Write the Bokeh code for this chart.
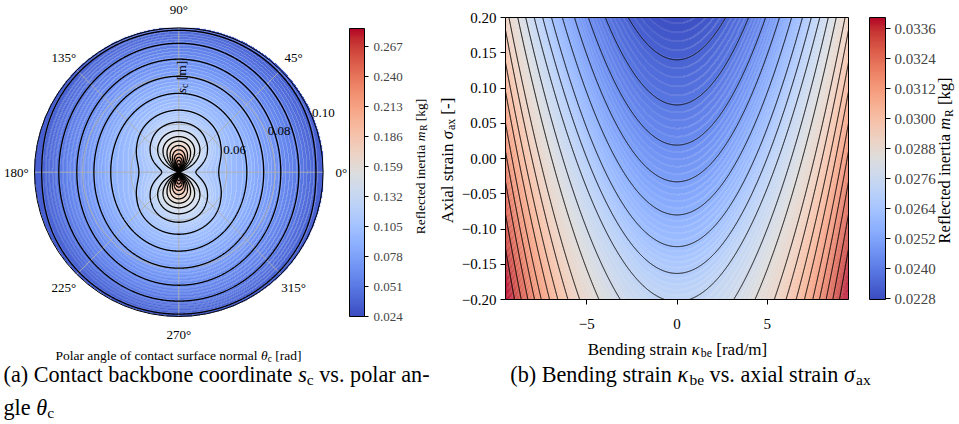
import numpy as np
from bokeh.plotting import figure
from bokeh.models import (ColorBar, LinearColorMapper, FixedTicker, PrintfTickFormatter,
                          Range1d, LinearAxis, CustomJSTickFormatter)
from bokeh.core.properties import value
from bokeh.embed import file_html
from bokeh.resources import INLINE

FONT = "Liberation Serif"

# ---------------- panel (a): m_R over polar angle theta_c and backbone coordinate s_c ----------------
s_centre, s_edge = 0.04, 0.10
theta_tick_deg = [0, 45, 90, 135, 180, 225, 270, 315]
s_tick = [0.06, 0.08, 0.10]
cbar_a_range = [0.024, 0.2835]
cbar_a_ticks = [0.024, 0.051, 0.078, 0.105, 0.132, 0.159, 0.186, 0.213, 0.240, 0.267]
# black contour levels [kg]
levels_a = [0.0375, 0.0510, 0.0645, 0.0780, 0.0915, 0.1050, 0.1185, 0.1320, 0.1455, 0.1590,
            0.1725, 0.1860, 0.1995, 0.2130, 0.2265, 0.2400, 0.2535, 0.2670, 0.2805]
# s_c where each level crosses the 90 deg ray (all levels) and the 0 deg ray (closed levels only)
s_at_90deg = [0.0990, 0.0936, 0.0870, 0.0799, 0.0728, 0.0658, 0.0608, 0.0573, 0.0548, 0.0529,
              0.0511, 0.0493, 0.0476, 0.0462, 0.0449, 0.0435, 0.0421, 0.0412, 0.0406]
s_at_0deg = [0.0970, 0.0899, 0.0824, 0.0753, 0.0683, 0.0566, 0.0471]
# value at the centre (s_c = 0.04) seen along the 0 deg and the 90 deg ray
centre_value_0deg = 0.125
centre_value_90deg = 0.2835

# ---------------- panel (b): m_R over bending strain kappa_be and axial strain sigma_ax ----------------
kappa_lim = [-9.5, 9.5]
sigma_lim = [-0.2, 0.2]
kappa_ticks = [-5, 0, 5]
sigma_ticks = [-0.20, -0.15, -0.10, -0.05, 0.00, 0.05, 0.10, 0.15, 0.20]
cbar_b_range = [0.02276, 0.03404]
cbar_b_ticks = [0.0228, 0.0240, 0.0252, 0.0264, 0.0276, 0.0288, 0.0300, 0.0312, 0.0324, 0.0336]
levels_b = [0.02333, 0.02390, 0.02447, 0.02504, 0.02561, 0.02618, 0.02675, 0.02732, 0.02789, 0.02846,
            0.02903, 0.02960, 0.03017, 0.03074, 0.03131, 0.03188, 0.03245, 0.03302, 0.03359]
# two points read on every black contour (|kappa|, sigma): vertex / bottom edge, and top / side edge
kappa_pt1 = [0.0, 0.0, 0.0, 0.0, 0.0, 0.0, 0.0, 0.68, 3.14, 4.32, 5.39, 6.04, 6.60, 7.06, 7.52, 7.89,
             8.26, 8.63, 9.00]
sigma_pt1 = [0.140, 0.076, 0.019, -0.033, -0.080, -0.125, -0.163, -0.2, -0.2, -0.2, -0.2, -0.2, -0.2,
             -0.2, -0.2, -0.2, -0.2, -0.2, -0.2]
kappa_pt2 = [2.70, 3.97, 4.91, 5.68, 6.35, 6.95, 7.44, 7.91, 8.38, 8.82, 9.31, 9.5, 9.5, 9.5, 9.5, 9.5,
             9.5, 9.5, 9.5]
sigma_pt2 = [0.2, 0.2, 0.2, 0.2, 0.2, 0.2, 0.2, 0.2, 0.2, 0.2, 0.2, 0.182, 0.136, 0.095, 0.050, 0.010,
             -0.033, -0.079, -0.128]

# ---------------- colour map (matplotlib "coolwarm" anchors) ----------------
CW_ANCH = [(59, 76, 192), (68, 90, 204), (77, 104, 215), (87, 117, 225), (98, 130, 234), (108, 142, 241),
           (119, 154, 247), (130, 165, 251), (141, 176, 254), (152, 185, 255), (163, 194, 255), (174, 201, 253),
           (184, 208, 249), (194, 213, 244), (204, 217, 238), (213, 219, 230), (221, 221, 221), (229, 216, 209),
           (236, 211, 197), (241, 204, 185), (245, 196, 173), (247, 187, 160), (247, 177, 148), (247, 166, 135),
           (244, 154, 123), (241, 141, 111), (236, 127, 99), (229, 112, 88), (222, 96, 77), (213, 80, 66),
           (203, 62, 56), (192, 40, 47), (180, 4, 38)]


def make_palette(n=256):
    pal = []
    m = len(CW_ANCH)
    for i in range(n):
        t = i / (n - 1) * (m - 1)
        j = min(int(t), m - 2)
        f = t - j
        c = [round(CW_ANCH[j][k] * (1 - f) + CW_ANCH[j + 1][k] * f) for k in range(3)]
        pal.append("#%02x%02x%02x" % tuple(c))
    return pal


PAL = make_palette()

# ---------------- page geometry (px from top-left) ----------------
W, H = 959, 424
KA = 2405.0                  # polar panel: px per metre of s
CXA, CYA = 178.3, 171.7      # polar centre
RA = s_edge - s_centre
FL, FR, FT, FB = 505, 848, 17, 299   # panel (b) frame


def kap(px):
    return kappa_lim[0] + (px - FL) * (kappa_lim[1] - kappa_lim[0]) / (FR - FL)


def sig(py):
    return sigma_lim[1] - (py - FT) * (sigma_lim[1] - sigma_lim[0]) / (FB - FT)


p = figure(width=W, height=H, x_range=Range1d(0, W), y_range=Range1d(0, H), output_backend="svg",
           toolbar_location=None, min_border=0, x_axis_location=None, y_axis_location=None,
           outline_line_color=None, title=None, background_fill_color="white", border_fill_color="white")
p.xgrid.visible = False
p.ygrid.visible = False
p.extra_x_ranges = {"ax": Range1d(-CXA / KA, (W - CXA) / KA), "kap": Range1d(kap(0), kap(W))}
p.extra_y_ranges = {"ay": Range1d(-(H - CYA) / KA, CYA / KA), "sig": Range1d(sig(H), sig(0))}
A = dict(x_range_name="ax", y_range_name="ay")
B = dict(x_range_name="kap", y_range_name="sig")

# ---------------- text helpers ----------------
CWID = {' ': 250, 'a': 444, 'b': 500, 'c': 444, 'd': 500, 'e': 444, 'f': 333, 'g': 500, 'h': 500, 'i': 278,
        'j': 278, 'k': 500, 'l': 278, 'm': 778, 'n': 500, 'o': 500, 'p': 500, 'q': 500, 'r': 333, 's': 389,
        't': 278, 'u': 500, 'v': 500, 'w': 722, 'x': 500, 'y': 500, 'z': 444, 'A': 722, 'B': 667, 'C': 667,
        'D': 722, 'E': 611, 'P': 556, 'R': 667, 'S': 556, '(': 333, ')': 333, '[': 333, ']': 333, '/': 278,
        '.': 250, '-': 333, '°': 400, 'θ': 500, 'κ': 540, 'σ': 540}


def tw(s, size):
    return sum(CWID.get(ch, 500) for ch in s) / 1000.0 * size


def put(px, py, t, fs, style, ang):
    p.text(x=[px], y=[H - py], text=[t], angle=ang, text_font=value(FONT),
           text_font_size=value("%.2fpx" % fs), text_font_style=style, text_align="left",
           text_baseline="alphabetic", text_color="black")


def rich(cx, cy, pieces, size, vertical=False, align="center"):
    widths = [tw(t, size * (0.7 if sub else 1.0)) for t, it, sub in pieces]
    total = sum(widths)
    along = (0.0, -1.0) if vertical else (1.0, 0.0)
    down = (1.0, 0.0) if vertical else (0.0, 1.0)
    acc = -total / 2 if align == "center" else 0.0
    for (t, it, sub), w in zip(pieces, widths):
        fs = size * (0.7 if sub else 1.0)
        lead = len(t) - len(t.lstrip(" "))
        a0 = acc + tw(" " * lead, fs)
        off = 0.33 * size + (0.22 * size if sub else 0.0)
        px = cx + along[0] * a0 + down[0] * off
        py = cy + along[1] * a0 + down[1] * off
        put(px, py, t.strip(" "), fs, "italic" if it else "normal", np.pi / 2 if vertical else 0.0)
        acc += w


def seam_overlay(q, step, alpha):
    band = np.where(np.isnan(q), -1, np.floor(q / step + 1e-9)).astype(int)
    m = np.zeros(q.shape, bool)
    m[1:, :] |= band[1:, :] != band[:-1, :]
    m[:, 1:] |= band[:, 1:] != band[:, :-1]
    valid = band >= 0
    nb = valid.copy()
    nb[1:, :] &= valid[:-1, :]
    nb[:, 1:] &= valid[:, :-1]
    m &= nb
    img = np.zeros(q.shape, dtype=np.uint32)
    v = img.view(dtype=np.uint8).reshape(q.shape + (4,))
    v[m] = [255, 255, 255, alpha]
    return img


def contour_lines(X, Y, Z, levels):
    try:
        from bokeh.plotting.contour import contour_data
        ld = contour_data(X, Y, Z, levels, want_fill=False, want_line=True).line_data
        return list(ld.xs), list(ld.ys)
    except Exception:
        import contourpy
        cg = contourpy.contour_generator(X, Y, Z, line_type="Separate")
        xs, ys = [], []
        for lv in levels:
            for seg in cg.lines(lv):
                xs.append(seg[:, 0])
                ys.append(seg[:, 1])
        return xs, ys


# ======================= panel (a) =======================
La = np.array(levels_a)
n_closed = len(s_at_0deg)


def ray_profile(s_list, lv, centre_val):
    r = np.concatenate([[0.0], (np.array(s_list) - s_centre)[::-1]])
    v = np.concatenate([[centre_val], np.array(lv)[::-1]])
    slope_out = (v[-1] - v[-2]) / (r[-1] - r[-2])
    r = np.append(r, RA * 1.1)
    v = np.append(v, v[-2] + slope_out * (RA * 1.1 - r[-2]))
    return r, v


r_h, v_h = ray_profile(s_at_0deg, La[:n_closed], centre_value_0deg)
r_v, v_v = ray_profile(s_at_90deg, La, centre_value_90deg)


def m_field(rr, c2, s2):
    a = np.interp(rr, r_h, v_h)
    b = np.interp(rr, r_v, v_v)
    return 1.0 / (c2 / a + s2 / b)


NA = 289
ga = -RA + (np.arange(NA) + 0.5) * 2 * RA / NA
XX, YY = np.meshgrid(ga, ga)
RR = np.hypot(XX, YY)
valA = m_field(RR, XX ** 2 / RR ** 2, YY ** 2 / RR ** 2)
stepA = 0.0027
qa = cbar_a_range[0] + (np.floor((valA - cbar_a_range[0]) / stepA) + 0.5) * stepA
qa[RR > RA] = np.nan

mapA = LinearColorMapper(palette=PAL, low=cbar_a_range[0], high=cbar_a_range[1], nan_color=(0, 0, 0, 0.0))
p.image(image=[qa], x=-RA, y=-RA, dw=2 * RA, dh=2 * RA, color_mapper=mapA, **A)
p.image_rgba(image=[seam_overlay(qa - cbar_a_range[0], stepA, 60)], x=-RA, y=-RA, dw=2 * RA, dh=2 * RA, **A)

for s in s_tick[:-1]:
    p.circle(x=[0], y=[0], radius=s - s_centre, fill_color=None, line_color="#b0b0b0", line_width=0.9, **A)
ang = np.radians(theta_tick_deg)
p.segment(x0=np.zeros(len(ang)), y0=np.zeros(len(ang)), x1=RA * np.cos(ang), y1=RA * np.sin(ang),
          line_color="#b0b0b0", line_width=0.9, **A)

rg = RA * np.linspace(0, 1, 361) ** 1.5
tg = np.linspace(0, 2 * np.pi, 1441)
RG, TG = np.meshgrid(rg, tg)
ZG = m_field(RG, np.cos(TG) ** 2, np.sin(TG) ** 2)
lxs, lys = contour_lines(RG * np.cos(TG), RG * np.sin(TG), ZG, levels_a)
p.multi_line(xs=lxs, ys=lys, line_color="black", line_width=1.3, **A)
p.circle(x=[0], y=[0], radius=RA, fill_color=None, line_color="black", line_width=1.0, **A)

rl = 162.5 / KA
for d in theta_tick_deg:
    p.text(x=[rl * np.cos(np.radians(d))], y=[rl * np.sin(np.radians(d))], text=["%d°" % d],
           text_font=value(FONT), text_font_size=value("13px"), text_align="center",
           text_baseline="middle", text_color="black", **A)
for s in s_tick:
    r = s - s_centre
    p.text(x=[r * np.cos(np.radians(22.5))], y=[r * np.sin(np.radians(22.5))], text=["%.2f" % s],
           text_font=value(FONT), text_font_size=value("13px"), text_align="left",
           text_baseline="bottom", text_color="black", **A)

cbA = ColorBar(color_mapper=mapA, ticker=FixedTicker(ticks=cbar_a_ticks),
               formatter=PrintfTickFormatter(format="%.3f"), width=15, height=288,
               location=(349, H - 316), padding=0, margin=0, bar_line_color="black",
               major_tick_line_color="black", major_tick_in=0, major_tick_out=4, minor_tick_line_color=None,
               major_label_text_font=FONT, major_label_text_font_size="13px", label_standoff=5,
               background_fill_color=None, border_line_color=None)
p.add_layout(cbA)

rich(177, 76.5, [("s", True, False), ("c", False, True), (" [m]", False, False)], 13.5, vertical=True)
rich(178, 351, [("Polar angle of contact surface normal ", False, False), ("θ", True, False),
                ("c", False, True), (" [rad]", False, False)], 13.5)
rich(416, 166, [("Reflected inertia ", False, False), ("m", True, False), ("R", False, True),
                (" [kg]", False, False)], 13.5, vertical=True)
rich(3, 367, [("(a) Contact backbone coordinate ", False, False), ("s", True, False), ("c", False, True),
              (" vs. polar an-", False, False)], 22.2, align="left")
rich(3, 400, [("gle ", False, False), ("θ", True, False), ("c", False, True)], 22.2, align="left")

# ======================= panel (b) =======================
k1 = np.array(kappa_pt1)
s1 = np.array(sigma_pt1)
k2 = np.array(kappa_pt2)
s2 = np.array(sigma_pt2)
cb = (s2 - s1) / (k2 ** 2 - k1 ** 2)
vb = s1 - cb * k1 ** 2
Lb = np.array(levels_b)
stepB = Lb[1] - Lb[0]
NXB, NYB = FR - FL, FB - FT
kx = kappa_lim[0] + (np.arange(NXB) + 0.5) * (kappa_lim[1] - kappa_lim[0]) / NXB
sy = sigma_lim[0] + (np.arange(NYB) + 0.5) * (sigma_lim[1] - sigma_lim[0]) / NYB
valB = np.empty((NYB, NXB))
for i, kk in enumerate(kx):
    sl = vb + cb * kk ** 2
    d0 = sl[0] - sl[1]
    d1 = sl[-2] - sl[-1]
    ext_s = np.concatenate([sl[0] + d0 * np.arange(6, 0, -1), sl, sl[-1] - d1 * np.arange(1, 7)])
    ext_L = np.concatenate([Lb[0] - stepB * np.arange(6, 0, -1), Lb, Lb[-1] + stepB * np.arange(1, 7)])
    valB[:, i] = np.interp(sy, ext_s[::-1], ext_L[::-1])
fineB = stepB / 5
baseB = cbar_b_range[0]
qb = baseB + (np.floor((valB - baseB) / fineB) + 0.5) * fineB

mapB = LinearColorMapper(palette=PAL, low=cbar_b_range[0], high=cbar_b_range[1])
p.image(image=[qb], x=kappa_lim[0], y=sigma_lim[0], dw=kappa_lim[1] - kappa_lim[0],
        dh=sigma_lim[1] - sigma_lim[0], color_mapper=mapB, **B)
p.image_rgba(image=[seam_overlay(qb - baseB, fineB, 55)], x=kappa_lim[0], y=sigma_lim[0],
             dw=kappa_lim[1] - kappa_lim[0], dh=sigma_lim[1] - sigma_lim[0], **B)
kk = np.linspace(kappa_lim[0], kappa_lim[1], 2400)
bx, by = [], []
for j in range(len(levels_b)):
    ss = vb[j] + cb[j] * kk ** 2
    bx.append(kk)
    by.append(np.where((ss >= sigma_lim[0]) & (ss <= sigma_lim[1]), ss, np.nan))
p.multi_line(xs=bx, ys=by, line_color="black", line_width=1.0, **B)
p.quad(left=[kappa_lim[0]], right=[kappa_lim[1]], bottom=[sigma_lim[0]], top=[sigma_lim[1]],
       fill_color=None, line_color="black", line_width=1.0, **B)

xax = LinearAxis(x_range_name="kap", y_range_name="sig", fixed_location=sigma_lim[0],
                 ticker=FixedTicker(ticks=kappa_ticks),
                 formatter=CustomJSTickFormatter(code="return (tick < 0 ? '\u2212' : '') + Math.abs(tick).toFixed(0);"))
yax = LinearAxis(x_range_name="kap", y_range_name="sig", fixed_location=kappa_lim[0],
                 ticker=FixedTicker(ticks=sigma_ticks),
                 formatter=CustomJSTickFormatter(code="return (tick < -1e-9 ? '\u2212' : '') + Math.abs(tick).toFixed(2);"))
for ax in (xax, yax):
    ax.major_label_text_font = FONT
    ax.major_label_text_font_size = "15px"
    ax.major_label_text_color = "black"
    ax.major_tick_in = 0
    ax.major_tick_out = 5
    ax.minor_tick_line_color = None
    ax.axis_line_color = None
    ax.major_tick_line_color = "black"
xax.major_label_standoff = 14
yax.major_label_standoff = 4
p.add_layout(xax, "below")
p.add_layout(yax, "left")

cbB = ColorBar(color_mapper=mapB, ticker=FixedTicker(ticks=cbar_b_ticks),
               formatter=PrintfTickFormatter(format="%.4f"), width=16, height=FB - FT,
               location=(869, H - FB), padding=0, margin=0, bar_line_color="black",
               major_tick_line_color="black", major_tick_in=0, major_tick_out=5, minor_tick_line_color=None,
               major_label_text_font=FONT, major_label_text_font_size="15px", label_standoff=4,
               background_fill_color=None, border_line_color=None)
p.add_layout(cbB)

rich(441, 160, [("Axial strain ", False, False), ("σ", True, False), ("ax", False, True),
                (" [-]", False, False)], 17, vertical=True)
rich(677, 343, [("Bending strain ", False, False), ("κ", True, False), ("be", False, True),
                (" [rad/m]", False, False)], 17)
rich(939, 160, [("Reflected inertia ", False, False), ("m", True, False), ("R", False, True),
                (" [kg]", False, False)], 16.5, vertical=True)
rich(690, 367, [("(b) Bending strain ", False, False), ("κ", True, False), ("be", False, True),
                (" vs. axial strain ", False, False), ("σ", True, False), ("ax", False, True)], 22.2)

open("out.html", "w").write(file_html(p, INLINE, "Reflected inertia"))
